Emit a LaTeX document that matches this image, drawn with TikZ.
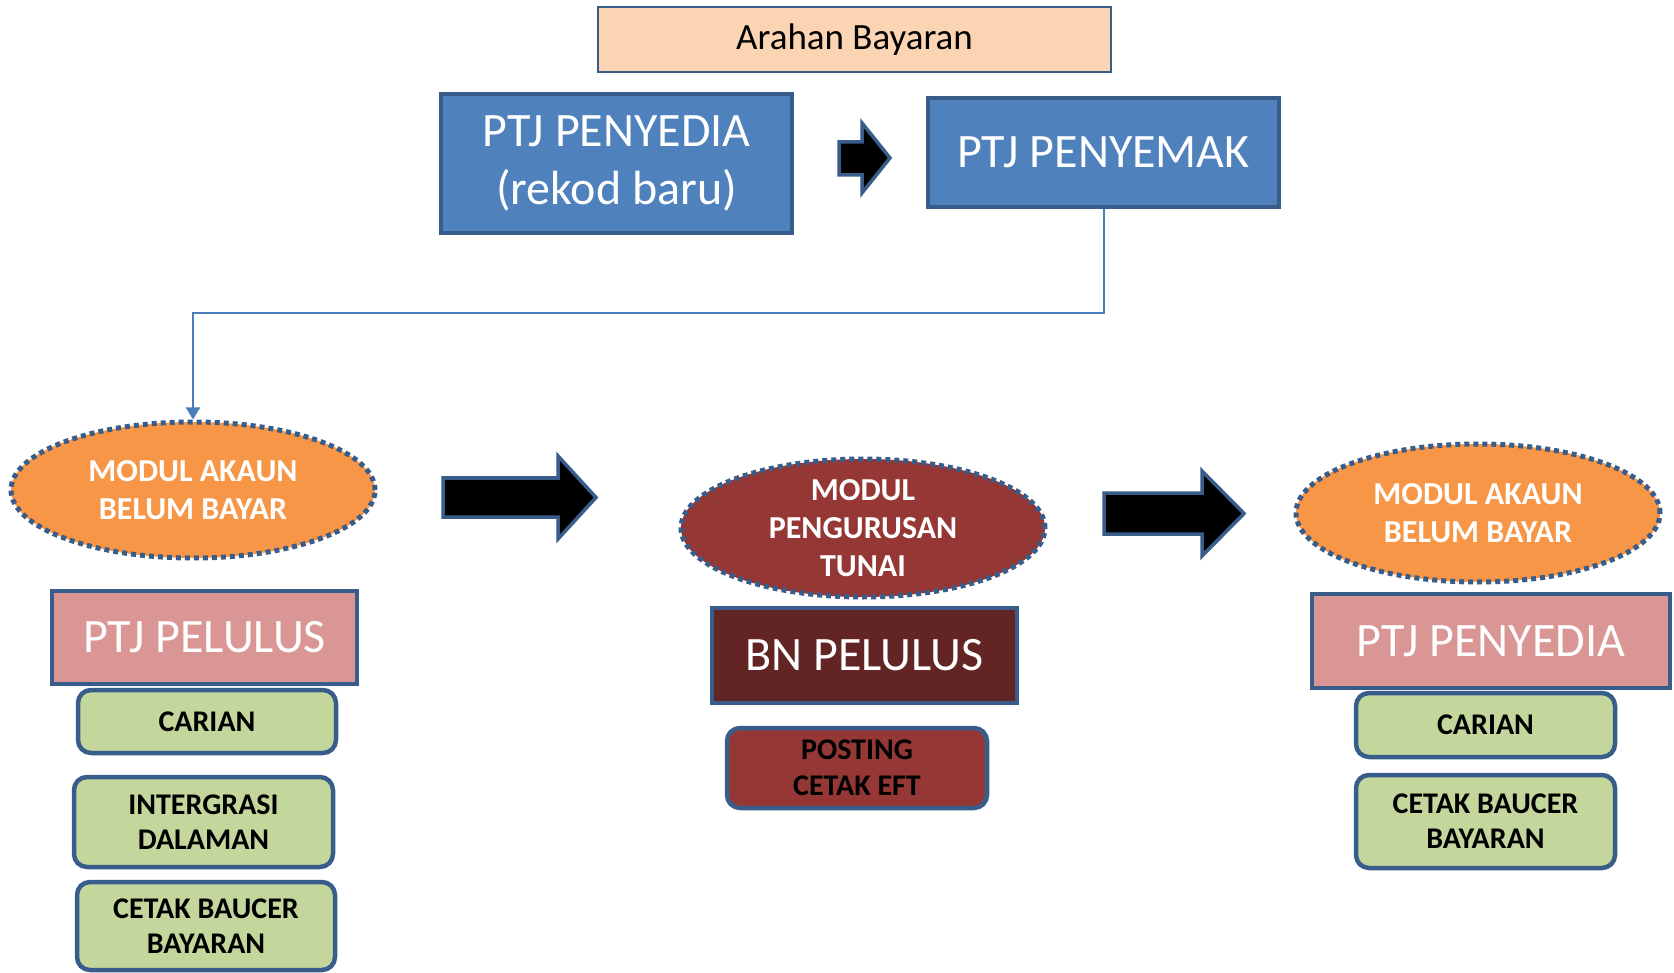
\documentclass[tikz,border=0pt]{standalone}
\usepackage{fontspec}
\setmainfont{Carlito}
\usetikzlibrary{shapes.geometric,arrows.meta}
\definecolor{bdr}{HTML}{385D8A}
\definecolor{peach}{HTML}{FBD4B4}
\definecolor{bluefill}{HTML}{4F81BD}
\definecolor{orangefill}{HTML}{F79646}
\definecolor{redfill}{HTML}{953735}
\definecolor{darkred}{HTML}{632523}
\definecolor{pinkfill}{HTML}{D99694}
\definecolor{greenfill}{HTML}{C3D69B}
\definecolor{connblue}{HTML}{4A7EBB}
\tikzset{
  base/.style={draw=bdr, line width=4.5pt, inner sep=0pt, align=center},
  titlebox/.style={draw=bdr, line width=1.5pt, fill=peach, inner sep=0pt,
    font=\fontsize{37}{44}\selectfont, text=black},
  bluebox/.style={base, fill=bluefill, text=white, font=\fontsize{48}{58}\selectfont},
  pinkbox/.style={base, fill=pinkfill, text=white, font=\fontsize{48}{56}\selectfont},
  darkbox/.style={base, fill=darkred, text=white, font=\fontsize{48}{56}\selectfont},
  greenbox/.style={base, fill=greenfill, rounded corners=13pt, text=black,
    font=\bfseries\fontsize{30}{35}\selectfont},
  redbox/.style={base, fill=redfill, rounded corners=13pt, text=black,
    font=\bfseries\fontsize{30}{36}\selectfont},
  modul/.style={ellipse, draw=bdr, line width=5pt, dash pattern=on 5pt off 4pt,
    inner sep=0pt, align=center, text=white, font=\bfseries\fontsize{32}{38}\selectfont},
  blockarrow/.style={draw=bdr, line width=3.5pt, fill=black, line join=miter},
  conn/.style={draw=connblue, line width=2pt, -{Triangle[width=14pt,length=12pt]}},
}
\begin{document}
\begin{tikzpicture}[x=1pt,y=-1pt]
\useasboundingbox (0,0) rectangle (1674,973);
\fill[white] (0,0) rectangle (1674,973);

% top
\node[titlebox, minimum width=513pt, minimum height=65pt] (arahan) at (854.5,39.5) {Arahan Bayaran};
\node[bluebox, minimum width=351pt, minimum height=139pt] (penyedia1) at (616.5,163.5) {PTJ PENYEDIA\\(rekod baru)};
\node[bluebox, minimum width=351pt, minimum height=109pt] (penyemak) at (1103.5,152.5) {PTJ PENYEMAK};

% small block arrow
\draw[blockarrow] (839,142) -- (862,142) -- (862,123) -- (890,158) -- (862,193) -- (862,175) -- (839,175) -- cycle;

% ellipses
\node[modul, fill=orangefill, minimum width=364pt, minimum height=136pt] (ell1) at (193,490) {MODUL AKAUN\\BELUM BAYAR};
\node[modul, fill=redfill, minimum width=364pt, minimum height=138pt] (ell2) at (863,528) {MODUL\\PENGURUSAN\\TUNAI};
\node[modul, fill=orangefill, minimum width=364pt, minimum height=138pt] (ell3) at (1478,513) {MODUL AKAUN\\BELUM BAYAR};

% connector
\coordinate (bend) at (0,313);
\draw[conn] (penyemak.south) -- (penyemak.south |- bend) -| (ell1.north);

% big block arrows
\draw[blockarrow] (443,478) -- (558,478) -- (558,456) -- (596,497.5) -- (558,539) -- (558,517) -- (443,517) -- cycle;
\draw[blockarrow] (1104,493) -- (1202,493) -- (1202,471) -- (1244,513.5) -- (1202,556) -- (1202,534) -- (1104,534) -- cycle;

% left column
\node[pinkbox, minimum width=305pt, minimum height=93pt] (pelulus) at (204.5,637.5) {PTJ PELULUS};
\node[greenbox, minimum width=258pt, minimum height=63pt] (carian1) at (207,721.5) {CARIAN};
\node[greenbox, minimum width=259pt, minimum height=90pt] (intergrasi) at (203.5,822) {INTERGRASI\\DALAMAN};
\node[greenbox, minimum width=258pt, minimum height=88pt] (cetak1) at (206,926) {CETAK BAUCER\\BAYARAN};

% middle column
\node[darkbox, minimum width=305pt, minimum height=95pt] (bn) at (864.5,655.5) {BN PELULUS};
\node[redbox, minimum width=260pt, minimum height=80pt] (posting) at (857,768) {POSTING\\CETAK EFT};

% right column
\node[pinkbox, minimum width=358pt, minimum height=94pt] (penyedia2) at (1491,641) {PTJ PENYEDIA};
\node[greenbox, minimum width=259pt, minimum height=64pt] (carian2) at (1485.5,725) {CARIAN};
\node[greenbox, minimum width=259pt, minimum height=93pt] (cetak2) at (1485.5,821.5) {CETAK BAUCER\\BAYARAN};
\end{tikzpicture}
\end{document}
